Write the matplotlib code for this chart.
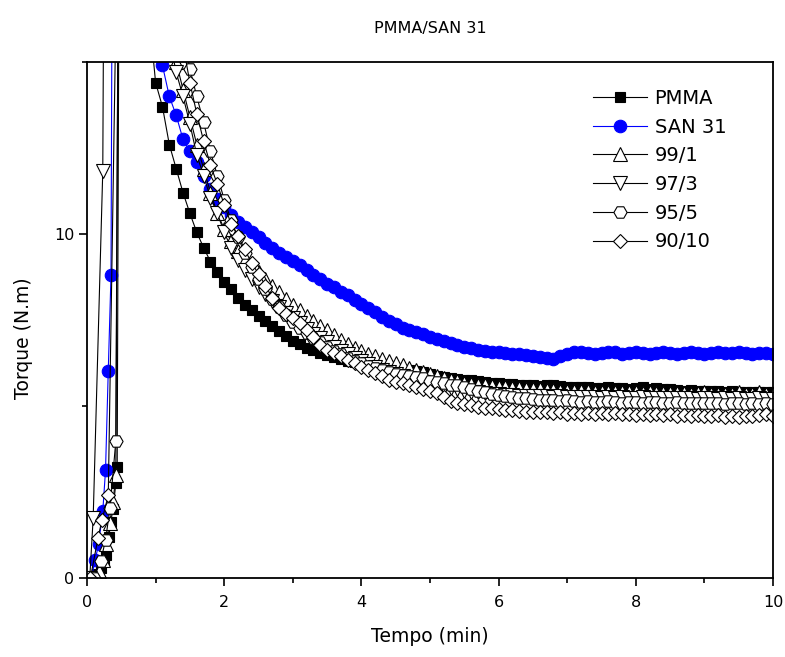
import numpy as np
import matplotlib
matplotlib.use("Agg")
import matplotlib.pyplot as plt

plt.rcParams['font.family'] = ['DejaVu Sans']

# start-up ramp (time in min, torque in N.m) for each sample
pmma_ramp_t = [0.09, 0.15, 0.20, 0.25, 0.28, 0.32, 0.345, 0.38, 0.42, 0.44, 0.47]
pmma_ramp_y = [0.03, 0.12, 0.29, 0.48, 0.67, 1.2, 1.63, 2.0, 2.75, 3.23, 20.0]
san_ramp_t = [0.06, 0.12, 0.17, 0.23, 0.27, 0.31, 0.35, 0.37]
san_ramp_y = [0.0, 0.52, 1.0, 1.94, 3.13, 6.03, 8.82, 20.0]
b99_ramp_t = [0.10, 0.17, 0.23, 0.28, 0.33, 0.38, 0.42, 0.46]
b99_ramp_y = [0.0, 0.2, 0.52, 1.0, 1.6, 2.2, 3.0, 20.0]
b97_ramp_t = [0.04, 0.09, 0.23, 0.25]
b97_ramp_y = [0.0, 1.74, 11.84, 20.0]
b95_ramp_t = [0.10, 0.20, 0.27, 0.335, 0.42, 0.46]
b95_ramp_y = [0.0, 0.5, 1.1, 2.03, 3.98, 20.0]
b90_ramp_t = [0.05, 0.16, 0.22, 0.31, 0.45]
b90_ramp_y = [0.0, 1.16, 1.7, 2.4, 20.0]

# decay part, one reading every 0.1 min starting at 0.9 min
decay_start = 0.9
decay_step = 0.1
pmma_decay = [16.5, 14.4, 13.7, 12.6, 11.9, 11.2, 10.6, 10.05, 9.6, 9.2,
              8.9, 8.6, 8.4, 8.15, 7.95, 7.8, 7.62, 7.48, 7.32, 7.18,
              7.03, 6.9, 6.8, 6.7, 6.62, 6.55, 6.48, 6.42, 6.37, 6.32,
              6.27, 6.23, 6.2, 6.15, 6.12, 6.1, 6.08, 6.05, 6.05, 6.02,
              5.98, 5.92, 5.88, 5.85, 5.8, 5.78, 5.76, 5.75, 5.72, 5.7,
              5.68, 5.66, 5.65, 5.64, 5.62, 5.6, 5.6, 5.58, 5.6, 5.62,
              5.58, 5.55, 5.56, 5.54, 5.55, 5.52, 5.53, 5.55, 5.52, 5.53,
              5.5, 5.52, 5.54, 5.5, 5.52, 5.48, 5.5, 5.47, 5.45, 5.46,
              5.44, 5.45, 5.43, 5.44, 5.42, 5.43, 5.41, 5.42, 5.4, 5.4,
              5.41, 5.4]
san_decay = [17.0, 16.0, 14.9, 14.0, 13.45, 12.75, 12.4, 12.1, 11.68, 11.3,
             11.02, 10.78, 10.55, 10.35, 10.2, 10.05, 9.9, 9.75, 9.6, 9.45,
             9.32, 9.22, 9.1, 8.95, 8.82, 8.68, 8.56, 8.45, 8.32, 8.22,
             8.08, 7.96, 7.84, 7.72, 7.6, 7.48, 7.38, 7.28, 7.2, 7.14,
             7.08, 7.02, 6.95, 6.88, 6.82, 6.76, 6.72, 6.68, 6.64, 6.6,
             6.58, 6.56, 6.54, 6.52, 6.5, 6.48, 6.45, 6.42, 6.4, 6.38,
             6.45, 6.52, 6.56, 6.56, 6.55, 6.52, 6.55, 6.57, 6.56, 6.52,
             6.54, 6.56, 6.53, 6.52, 6.55, 6.57, 6.54, 6.52, 6.55, 6.56,
             6.53, 6.52, 6.55, 6.56, 6.53, 6.54, 6.56, 6.53, 6.52, 6.55,
             6.53, 6.5]
b99_decay = [22.0, 20.0, 18.0, 16.2, 15.0, 14.2, 13.4, 12.6, 11.9, 11.2,
             10.6, 10.15, 9.8, 9.5, 9.3, 9.15, 8.9, 8.7, 8.5, 8.3,
             8.12, 7.95, 7.78, 7.62, 7.48, 7.33, 7.2, 7.05, 6.92, 6.8,
             6.68, 6.6, 6.52, 6.45, 6.38, 6.32, 6.25, 6.18, 6.1, 6.04,
             5.98, 5.92, 5.86, 5.8, 5.76, 5.72, 5.68, 5.65, 5.62, 5.6,
             5.58, 5.56, 5.55, 5.53, 5.52, 5.5, 5.5, 5.48, 5.47, 5.46,
             5.45, 5.45, 5.44, 5.43, 5.44, 5.42, 5.42, 5.41, 5.42, 5.4,
             5.41, 5.4, 5.39, 5.4, 5.38, 5.39, 5.38, 5.37, 5.38, 5.36,
             5.37, 5.4, 5.36, 5.35, 5.36, 5.34, 5.4, 5.35, 5.34, 5.42,
             5.35, 5.34]
b97_decay = [20.0, 18.5, 17.0, 15.7, 14.7, 14.0, 13.2, 12.3, 11.7, 11.05,
             10.6, 10.05, 9.6, 9.25, 8.95, 8.7, 8.45, 8.25, 8.05, 7.88,
             7.7, 7.55, 7.4, 7.25, 7.1, 6.97, 6.85, 6.72, 6.6, 6.5,
             6.4, 6.3, 6.22, 6.14, 6.06, 6.0, 5.94, 5.88, 5.82, 5.76,
             5.7, 5.65, 5.6, 5.56, 5.52, 5.48, 5.45, 5.42, 5.4, 5.38,
             5.36, 5.34, 5.33, 5.32, 5.3, 5.3, 5.29, 5.28, 5.28, 5.27,
             5.28, 5.26, 5.27, 5.25, 5.26, 5.25, 5.24, 5.26, 5.24, 5.25,
             5.23, 5.24, 5.25, 5.23, 5.24, 5.22, 5.23, 5.24, 5.22, 5.23,
             5.21, 5.22, 5.23, 5.21, 5.22, 5.2, 5.22, 5.21, 5.2, 5.22,
             5.2, 5.21]
b95_decay = [24.0, 22.0, 20.0, 18.5, 17.0, 15.8, 14.8, 14.0, 13.25, 12.4,
             11.7, 11.0, 10.4, 9.9, 9.45, 9.05, 8.7, 8.4, 8.12, 7.88,
             7.65, 7.45, 7.28, 7.12, 6.98, 6.85, 6.72, 6.6, 6.5, 6.4,
             6.32, 6.24, 6.17, 6.1, 6.04, 5.98, 5.94, 5.9, 5.86, 5.84,
             5.8, 5.74, 5.7, 5.66, 5.62, 5.6, 5.56, 5.5, 5.45, 5.4,
             5.36, 5.32, 5.28, 5.26, 5.24, 5.22, 5.2, 5.18, 5.17, 5.16,
             5.15, 5.16, 5.14, 5.13, 5.15, 5.12, 5.13, 5.14, 5.12, 5.1,
             5.12, 5.13, 5.1, 5.11, 5.12, 5.1, 5.09, 5.11, 5.1, 5.08,
             5.1, 5.09, 5.08, 5.1, 5.07, 5.08, 5.1, 5.07, 5.08, 5.06,
             5.08, 5.07]
b90_decay = [24.0, 22.0, 20.0, 18.3, 16.8, 15.5, 14.4, 13.5, 12.7, 12.0,
             11.45, 10.85, 10.3, 9.95, 9.55, 9.15, 8.85, 8.5, 8.15, 7.85,
             7.68, 7.55, 7.42, 7.2, 7.0, 6.78, 6.62, 6.55, 6.45, 6.35,
             6.24, 6.14, 6.04, 5.95, 5.86, 5.76, 5.7, 5.66, 5.6, 5.56,
             5.5, 5.44, 5.38, 5.25, 5.15, 5.1, 5.05, 5.02, 4.98, 4.95,
             4.93, 4.9, 4.88, 4.87, 4.85, 4.84, 4.83, 4.82, 4.82, 4.8,
             4.82, 4.78, 4.8, 4.78, 4.8, 4.76, 4.79, 4.77, 4.8, 4.76,
             4.78, 4.75, 4.78, 4.74, 4.77, 4.73, 4.76, 4.72, 4.75, 4.7,
             4.74, 4.72, 4.7, 4.73, 4.69, 4.72, 4.68, 4.72, 4.7, 4.74,
             4.78, 4.72]

labels = ['PMMA', 'SAN 31', '99/1', '97/3', '95/5', '90/10']


def series(ramp_t, ramp_y, decay):
    # time axis of the decay readings is the instrument sampling grid
    t = decay_start + decay_step * np.arange(len(decay))
    return np.concatenate([ramp_t, t]), np.concatenate([ramp_y, decay])


data = [
    series(pmma_ramp_t, pmma_ramp_y, pmma_decay),
    series(san_ramp_t, san_ramp_y, san_decay),
    series(b99_ramp_t, b99_ramp_y, b99_decay),
    series(b97_ramp_t, b97_ramp_y, b97_decay),
    series(b95_ramp_t, b95_ramp_y, b95_decay),
    series(b90_ramp_t, b90_ramp_y, b90_decay),
]

styles = [
    dict(marker='s', ms=7.5, mfc='black', mec='black', color='black'),
    dict(marker='o', ms=9.0, mfc='#0000ff', mec='#0000ff', color='#0000ff'),
    dict(marker='^', ms=10.0, mfc='white', mec='black', color='black'),
    dict(marker='v', ms=10.0, mfc='white', mec='black', color='black'),
    dict(marker='H', ms=9.5, mfc='white', mec='black', color='black'),
    dict(marker='D', ms=7.5, mfc='white', mec='black', color='black'),
]

fig = plt.figure(figsize=(7.85, 6.57), dpi=100)
ax = fig.add_axes([87 / 785, 79 / 657, 686 / 785, 516 / 657])

for (t, y), lab, st in zip(data, labels, styles):
    ax.plot(t, y, lw=0.8, mew=0.8, label=lab, **st)

ax.set_xlim(0, 10)
ax.set_ylim(0, 15)
ax.set_xticks([0, 2, 4, 6, 8, 10])
ax.set_xticks([1, 3, 5, 7, 9], minor=True)
ax.set_yticks([0, 10])
ax.set_yticks([5, 15], minor=True)
ax.tick_params(which='major', direction='out', length=6, width=1.2, labelsize=11.5)
ax.tick_params(which='minor', direction='out', length=3.5, width=1.2)
ax.tick_params(axis='x', which='major', pad=6)
ax.tick_params(axis='y', which='major', pad=3)
for sp in ax.spines.values():
    sp.set_linewidth(1.3)

ax.set_xlabel('Tempo (min)', fontsize=13.5)
ax.set_ylabel('Torque (N.m)', fontsize=13.5)
ax.xaxis.set_label_coords(0.5, -0.095)
ax.yaxis.set_label_coords(-0.078, 0.465)
fig.text(430 / 785, 1 - 28 / 657, 'PMMA/SAN 31', ha='center', va='center', fontsize=11.5)

ax.legend(loc='upper left', bbox_to_anchor=(0.738, 0.948), frameon=False,
          fontsize=14, handlelength=2.75, handletextpad=0.4, labelspacing=0.5,
          borderpad=0, borderaxespad=0)

fig.savefig('out.png', dpi=100)
